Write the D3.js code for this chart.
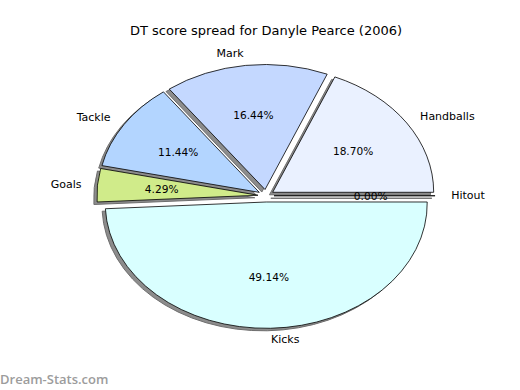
<!DOCTYPE html>
<html>
<head>
<meta charset="utf-8">
<script src="https://cdn.jsdelivr.net/npm/d3@7"></script>
<style>
    body { margin: 0; background: #fff; }
    text { font-family: "DejaVu Sans", sans-serif; fill: #000; }
</style>
</head>
<body>
<div id="chart"></div>
<script>
// data (counter-clockwise from 3 o'clock)
const categories = ["Handballs", "Mark", "Tackle", "Goals", "Kicks", "Hitout"];
const values = [18.70, 16.44, 11.44, 4.29, 49.14, 0.00];
const sliceColors = ["#eaf1ff", "#c4d8ff", "#b3d5ff", "#d0eb8a", "#d9ffff", "#e8e8ff"];

const width = 520, height = 390;
const cx = 266, cy = 195.75;     // pie centre
const rx = 161, ry = 125;        // stretched radii
const explode = 0.05;

const svg = d3.select("#chart").append("svg")
    .attr("width", width)
    .attr("height", height);

// unit circle -> pixels
const x = d3.scaleLinear().domain([-1, 1]).range([cx - rx, cx + rx]);
const y = d3.scaleLinear().domain([-1, 1]).range([cy + ry, cy - ry]);

const pie = d3.pie().sort(null).value(d => d)
    .startAngle(0).endAngle(2 * Math.PI);
const arcs = pie(values).map((d, i) => {
    // d3 angles read as ccw angles from east
    const t1 = d.startAngle, t2 = d.endAngle;
    const mid = (t1 + t2) / 2;
    return {
        i: i,
        t1: t1, t2: t2, mid: mid,
        ox: explode * Math.cos(mid),
        oy: explode * Math.sin(mid),
        value: d.value
    };
});

const arc = d3.arc().innerRadius(0).outerRadius(1);
// ccw-from-east -> d3 clockwise-from-north
const wedgePath = a => arc({startAngle: Math.PI / 2 - a.t2, endAngle: Math.PI / 2 - a.t1});

// shadows, all below the wedges
svg.append("g").selectAll("path")
    .data(arcs)
    .enter().append("path")
    .attr("transform", a => `translate(${x(a.ox - 0.02)}, ${y(a.oy - 0.02)}) scale(${rx}, ${ry})`)
    .attr("d", wedgePath)
    .attr("fill", "#8c8c8c")
    .attr("stroke", "#6e6e6e")
    .attr("stroke-width", 1)
    .attr("vector-effect", "non-scaling-stroke");

// wedges
svg.append("g").selectAll("path")
    .data(arcs)
    .enter().append("path")
    .attr("transform", a => `translate(${x(a.ox)}, ${y(a.oy)}) scale(${rx}, ${ry})`)
    .attr("d", wedgePath)
    .attr("fill", a => sliceColors[a.i])
    .attr("stroke", "#000")
    .attr("stroke-width", 0.8)
    .attr("vector-effect", "non-scaling-stroke");

// category labels
svg.append("g").selectAll("text")
    .data(arcs)
    .enter().append("text")
    .attr("x", a => x(a.ox + 1.1 * Math.cos(a.mid)))
    .attr("y", a => y(a.oy + 1.1 * Math.sin(a.mid)))
    .attr("text-anchor", a => Math.cos(a.mid) > 0 ? "start" : "end")
    .attr("dominant-baseline", "central")
    .style("font-size", "11px")
    .text(a => categories[a.i]);

// percentage labels
svg.append("g").selectAll("text")
    .data(arcs)
    .enter().append("text")
    .attr("x", a => x(a.ox + 0.6 * Math.cos(a.mid)))
    .attr("y", a => y(a.oy + 0.6 * Math.sin(a.mid)))
    .attr("text-anchor", "middle")
    .attr("dominant-baseline", "central")
    .style("font-size", "10.6px")
    .text(a => a.value.toFixed(2) + "%");

// title
svg.append("text")
    .attr("x", cx)
    .attr("y", 30)
    .attr("text-anchor", "middle")
    .attr("dominant-baseline", "central")
    .style("font-size", "13px")
    .text("DT score spread for Danyle Pearce (2006)");

// watermark
svg.append("text")
    .attr("x", 0)
    .attr("y", 384)
    .style("font-family", "'Open Sans', sans-serif")
    .style("font-size", "13px")
    .style("font-weight", "600")
    .style("fill", "#9c9c9c")
    .text("Dream-Stats.com");
</script>
</body>
</html>
